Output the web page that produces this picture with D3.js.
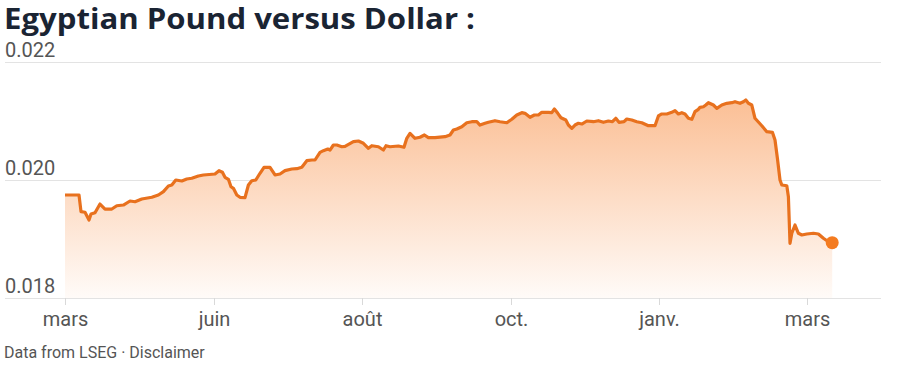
<!DOCTYPE html>
<html lang="fr">
  <head>
    <meta charset="utf-8">
    <title>Egyptian Pound versus Dollar</title>
    <script src="https://cdn.jsdelivr.net/npm/d3@7"></script>
    <style>
      body { margin: 0; background: #fff; }
      svg { display: block; }
      .title { font-family: "Open Sans", sans-serif; font-weight: 700; font-size: 28px; fill: #1a2433; }
      .axis text { font-family: Roboto, sans-serif; font-size: 20px; fill: #555; }
      .footer { font-family: Roboto, sans-serif; font-size: 16px; fill: #555; }
    </style>
  </head>
  <body>
    <script>

      // day offset from the first point, and EGP->USD rate
      var days = [0, 7, 8, 10, 12, 13, 15, 17.5, 20, 23.4, 25.9, 29.2, 32.5, 35, 38.4, 43.4, 46.7, 49.2, 51.7, 53.4,
        55.4, 58.4, 60.9, 63.4, 66.7, 69.2, 75, 77, 78.7, 80, 81.7, 83, 84.2, 85.9, 87.5, 90, 91.7, 93.4, 95.4, 97.5,
        99.5, 102.5, 105, 107.5, 110, 113.4, 115.9, 118.4, 120.9, 123.4, 125, 127.5, 129.2, 131.4, 132.5, 134.2, 135.9, 138.4, 140, 144.2,
        146.7, 149.2, 151.7, 153.4, 156.7, 159.2, 160.5, 162.5, 166.7, 169.5, 170.9, 172.5, 175, 177.5, 179.7, 181.7, 185, 190, 192.5, 194.2,
        195.9, 198.4, 200.9, 203.4, 205.9, 207.5, 210, 211.7, 215, 217.5, 220.9, 223.4, 225.9, 228.4, 230, 232.5, 234.7, 236.7, 238.4, 241.7,
        243.4, 244.7, 246.4, 248, 250.4, 251.7, 253.4, 255, 256.7, 258.4, 260.9, 264.2, 266.7, 269.2, 271.7, 273.7, 275.4, 277, 279.5, 280.9,
        283.4, 285.9, 288.4, 291.7, 295, 296.7, 298.4, 300.9, 303.4, 305, 306.7, 308.4, 310, 311.7, 313.4, 315, 316.7, 317.5, 319.2, 320.4,
        321.7, 324.2, 325.9, 328.4, 330.9, 333.4, 335, 337.5, 339.2, 340.4, 341.7, 343.4, 345, 346.7, 348.4, 350.9, 353.7, 355, 356.2, 357.5,
        358.4, 360.9, 361.7, 362.5, 363.4, 365, 366.7, 368.4, 370.9, 374.2, 376.7, 379.2, 381.7, 383.6];

      var rates = [0.019746, 0.019746, 0.019463, 0.019453, 0.019322, 0.019424, 0.019446, 0.019593, 0.019508, 0.019508,
        0.019564, 0.019576, 0.019644, 0.019632, 0.019678, 0.019707, 0.019746, 0.019802, 0.019898, 0.019915,
        0.020000, 0.019983, 0.020017, 0.020029, 0.020068, 0.020085, 0.020102, 0.020158, 0.020131, 0.020046,
        0.020012, 0.019886, 0.019859, 0.019746, 0.019707, 0.019700, 0.019915, 0.019988, 0.020000, 0.020114,
        0.020215, 0.020215, 0.020085, 0.020102, 0.020158, 0.020186, 0.020192, 0.020215, 0.020327, 0.020339,
        0.020339, 0.020469, 0.020497, 0.020525, 0.020508, 0.020593, 0.020593, 0.020564, 0.020570, 0.020649,
        0.020661, 0.020622, 0.020537, 0.020581, 0.020564, 0.020508, 0.020581, 0.020564, 0.020576, 0.020554,
        0.020707, 0.020791, 0.020707, 0.020724, 0.020763, 0.020717, 0.020717, 0.020734, 0.020763, 0.020847,
        0.020864, 0.020903, 0.020971, 0.020988, 0.020988, 0.020932, 0.020961, 0.020978, 0.021005, 0.020988,
        0.020971, 0.021029, 0.021102, 0.021141, 0.021130, 0.021063, 0.021102, 0.021102, 0.021147, 0.021147,
        0.021141, 0.021203, 0.021130, 0.021056, 0.021017, 0.020932, 0.020876, 0.020932, 0.020961, 0.020949,
        0.021000, 0.020988, 0.021005, 0.020978, 0.021000, 0.020988, 0.021046, 0.020978, 0.020988, 0.021034,
        0.021017, 0.020988, 0.020971, 0.020920, 0.020920, 0.021085, 0.021119, 0.021119, 0.021147, 0.021175,
        0.021119, 0.021141, 0.021119, 0.021046, 0.021029, 0.021158, 0.021198, 0.021232, 0.021242, 0.021271,
        0.021310, 0.021271, 0.021215, 0.021271, 0.021300, 0.021310, 0.021327, 0.021300, 0.021327, 0.021356,
        0.021300, 0.021271, 0.021046, 0.020983, 0.020920, 0.020819, 0.020808, 0.020678, 0.020368, 0.020000,
        0.019915, 0.019903, 0.019717, 0.018927, 0.019097, 0.019237, 0.019097, 0.019068, 0.019085, 0.019097,
        0.019085, 0.019012, 0.018954, 0.018937];

      var yTicks = [0.018, 0.020, 0.022];
      var xTickDays = [0, 74.5, 148.5, 223, 297, 371];
      var xTickLabels = ["mars", "juin", "août", "oct.", "janv.", "mars"];

      var w = 900;
      var h = 369;

      var dataset = days.map(function(d, i) { return { day: d, rate: rates[i] }; });

      var xScale = d3.scaleLinear().domain([0, 384]).range([65, 833]);
      var yScale = d3.scaleLinear().domain([0.018, 0.022]).range([298, 62]);

      var svg = d3.select("body").append("svg")
        .attr("width", w)
        .attr("height", h);

      //gradient under the line
      var grad = svg.append("defs").append("linearGradient")
        .attr("id", "fade")
        .attr("x1", 0).attr("y1", 0).attr("x2", 0).attr("y2", 1);
      grad.append("stop").attr("offset", "0%").attr("stop-color", "#fbbf95");
      grad.append("stop").attr("offset", "100%").attr("stop-color", "#fffbf8");

      svg.append("text")
        .attr("class", "title")
        .attr("x", 4)
        .attr("y", 29)
        .attr("textLength", 471)
        .attr("lengthAdjust", "spacingAndGlyphs")
        .text("Egyptian Pound versus Dollar :");

      //Y axis as gridlines with the labels sitting on top of them
      var yAxis = d3.axisRight(yScale)
        .tickValues(yTicks)
        .tickSize(876)
        .tickFormat(d3.format(".3f"));

      var gy = svg.append("g")
        .attr("class", "axis")
        .attr("transform", "translate(5,0)")
        .call(yAxis);
      gy.select(".domain").remove();
      gy.selectAll(".tick line").attr("stroke", "#e3e3e3").attr("stroke-width", 1.2);
      gy.selectAll(".tick text").attr("x", 0).attr("dy", -6).attr("text-anchor", "start");

      var area = d3.area()
        .x(function(d) { return xScale(d.day); })
        .y0(yScale.range()[0])
        .y1(function(d) { return yScale(d.rate); });

      var line = d3.line()
        .x(function(d) { return xScale(d.day); })
        .y(function(d) { return yScale(d.rate); });

      svg.append("path")
        .datum(dataset)
        .attr("fill", "url(#fade)")
        .attr("d", area);

      //X axis
      var xAxis = d3.axisBottom(xScale)
        .tickValues(xTickDays)
        .tickSize(7)
        .tickPadding(7)
        .tickFormat(function(d, i) { return xTickLabels[i]; });

      var gx = svg.append("g")
        .attr("class", "axis")
        .attr("transform", "translate(0,298)")
        .call(xAxis);
      gx.select(".domain").remove();
      gx.selectAll(".tick line").attr("stroke", "#d9d9d9");

      svg.append("path")
        .datum(dataset)
        .attr("fill", "none")
        .attr("stroke", "#e8711e")
        .attr("stroke-width", 3.2)
        .attr("stroke-linejoin", "round")
        .attr("d", line);

      var last = dataset[dataset.length - 1];
      svg.append("circle")
        .attr("cx", xScale(last.day))
        .attr("cy", yScale(last.rate))
        .attr("r", 6.5)
        .attr("fill", "#f47b20");

      svg.append("text")
        .attr("class", "footer")
        .attr("x", 4)
        .attr("y", 358)
        .text("Data from LSEG · Disclaimer");

    </script>
  </body>
</html>
